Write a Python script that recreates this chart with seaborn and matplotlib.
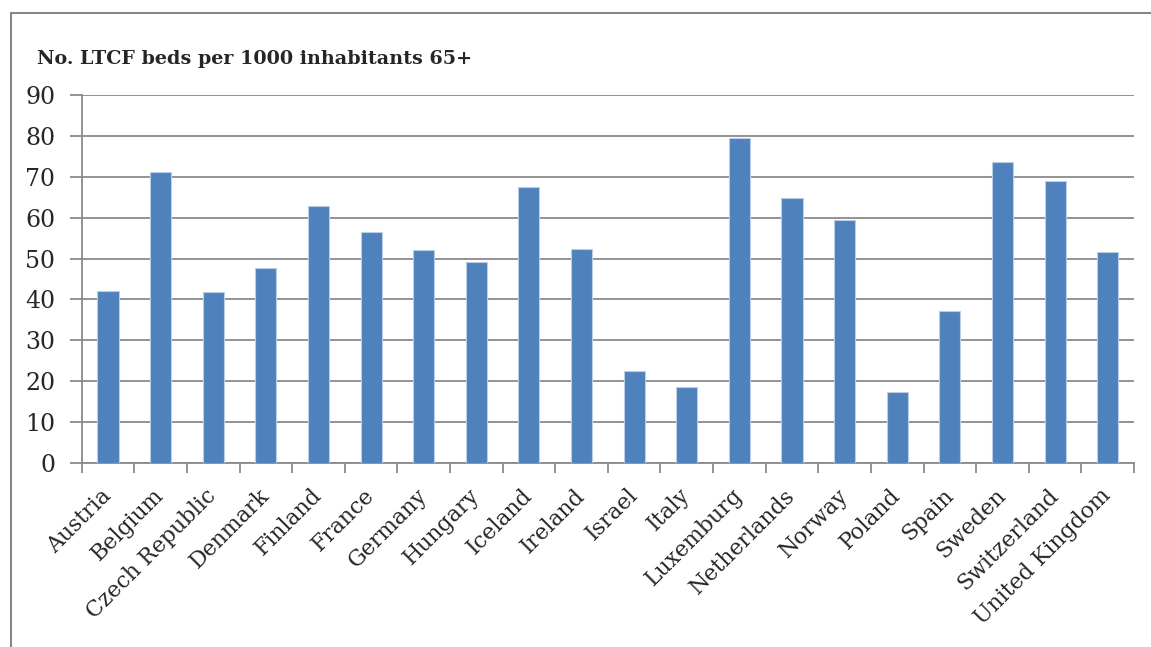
import matplotlib
matplotlib.use("Agg")
import matplotlib.pyplot as plt
import seaborn as sns
import pandas as pd
from matplotlib.lines import Line2D

countries = ["Austria", "Belgium", "Czech Republic", "Denmark", "Finland", "France",
             "Germany", "Hungary", "Iceland", "Ireland", "Israel", "Italy", "Luxemburg",
             "Netherlands", "Norway", "Poland", "Spain", "Sweden", "Switzerland",
             "United Kingdom"]
beds = [42.1, 71.1, 41.8, 47.8, 62.8, 56.4, 52.0, 49.2, 67.4, 52.3, 22.5, 18.6, 79.5,
        64.9, 59.5, 17.4, 37.2, 73.5, 68.9, 51.7]
y_ticks = [0, 10, 20, 30, 40, 50, 60, 70, 80, 90]
title = "No. LTCF beds per 1000 inhabitants 65+"

df = pd.DataFrame({"country": countries, "beds": beds})

sns.set_theme(style="white")
plt.rcParams['font.family'] = ['DejaVu Serif']

W, H = 1151, 647
fig = plt.figure(figsize=(W / 100, H / 100), dpi=100)
ax = fig.add_axes([81.7 / W, 1 - 463 / H, (1134 - 81.7) / W, (463 - 95) / H])

grid_c = "#8a8a8a"
sns.barplot(data=df, x="country", y="beds", color="#4F81BD", saturation=1,
            width=0.4, edgecolor="#B9CDE5", linewidth=0.8, ax=ax, zorder=3)

ax.set_ylim(0, 90)
ax.set_xlim(-0.5, len(countries) - 0.5)
ax.set_yticks(y_ticks)
ax.set_yticklabels([str(t) for t in y_ticks])
ax.yaxis.grid(True, color=grid_c, linewidth=1.3, zorder=0)
ax.set_axisbelow(True)
ax.set_xlabel("")
ax.set_ylabel("")

for s in ["top", "right"]:
    ax.spines[s].set_visible(False)
for s in ["left", "bottom"]:
    ax.spines[s].set_color(grid_c)
    ax.spines[s].set_linewidth(1.3)

# category ticks at boundaries
ax.set_xticks([i - 0.5 for i in range(len(countries) + 1)], minor=True)
ax.set_xticks(range(len(countries)))
ax.set_xticklabels(countries, rotation=45, ha="right", va="center",
                   rotation_mode="anchor", fontsize=15.8)
ax.tick_params(axis="x", which="major", length=0, pad=21)
ax.tick_params(axis="x", which="minor", length=7, width=1.3, color=grid_c,
               direction="out", bottom=True)
ax.tick_params(axis="y", length=9, width=1.3, color=grid_c, direction="out",
               labelsize=17, pad=10, left=True)

fig.text(37 / W, 1 - 64 / H, title, fontsize=13.8, fontweight="bold",
         family="DejaVu Serif", ha="left", va="baseline")

# outer border
fig.add_artist(Line2D([11 / W, 11 / W], [0, 1 - 13 / H], transform=fig.transFigure,
                      color="#868686", linewidth=1.5))
fig.add_artist(Line2D([11 / W, 1], [1 - 13 / H, 1 - 13 / H], transform=fig.transFigure,
                      color="#868686", linewidth=1.5))

fig.savefig("out.png", dpi=100, facecolor="white")
